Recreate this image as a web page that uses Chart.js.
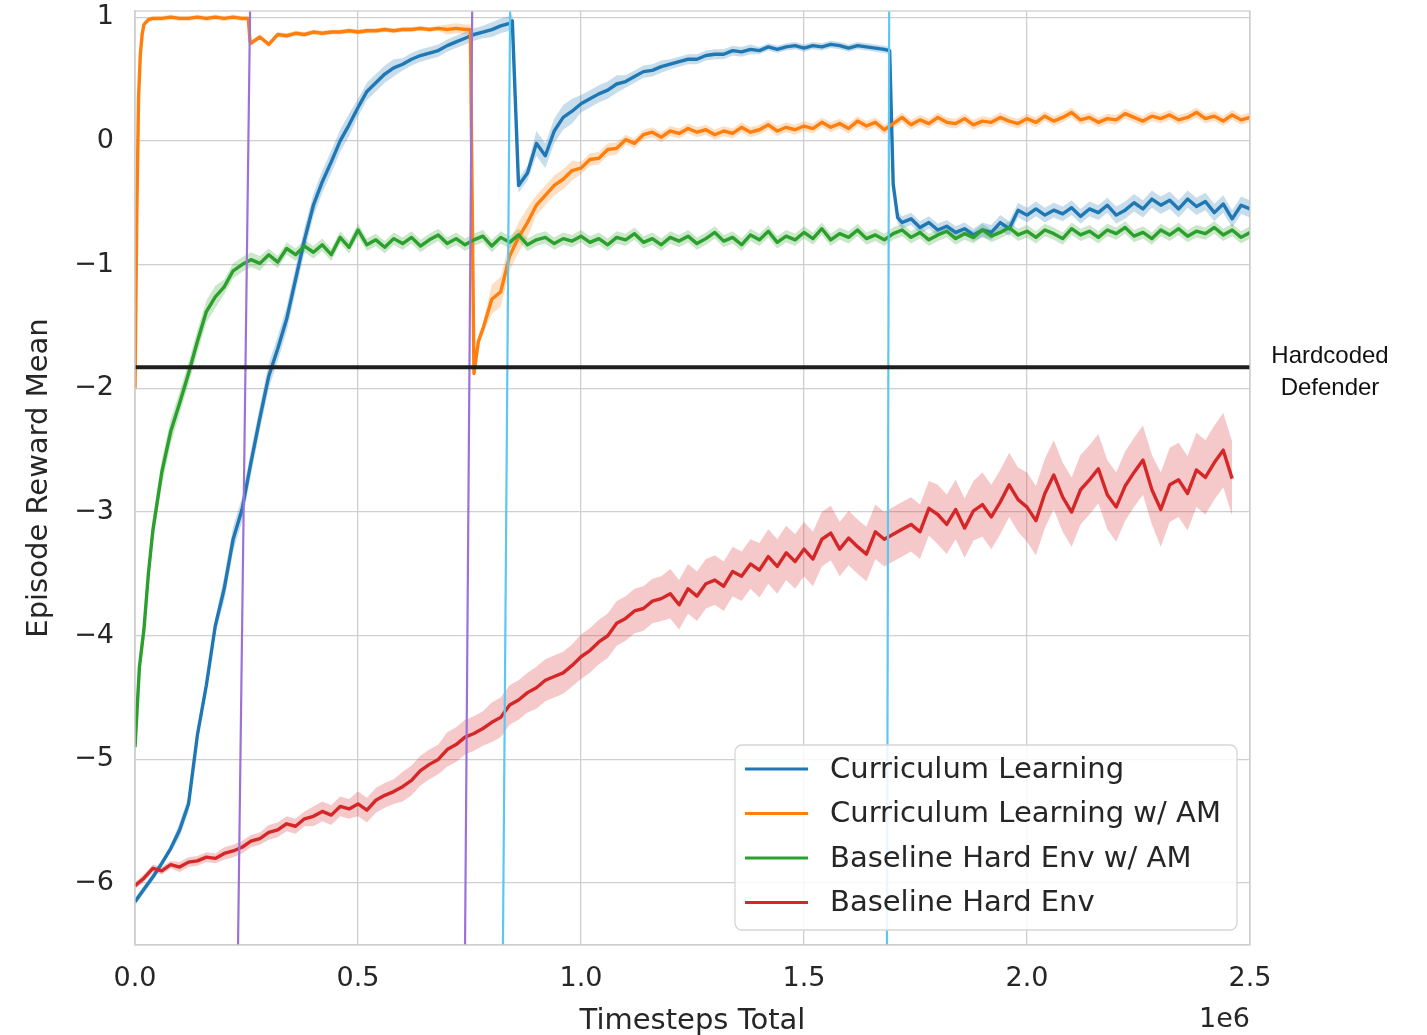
<!DOCTYPE html>
<html>
<head>
<meta charset="utf-8">
<title>Episode Reward Mean</title>
<script src="https://cdn.jsdelivr.net/npm/chart.js@4.4.1/dist/chart.umd.min.js"></script>
<style>
  html, body { margin: 0; padding: 0; background: #fff; }
</style>
</head>
<body>
<canvas id="rewardChart" width="1427" height="1035"></canvas>
<script>
// timesteps, in units of 1e6
const steps = [
  0.00, 0.02, 0.04, 0.06, 0.08, 0.10, 0.12, 0.14, 0.16, 0.18,
  0.20, 0.22, 0.24, 0.26, 0.28, 0.30, 0.32, 0.34, 0.36, 0.38,
  0.40, 0.42, 0.44, 0.46, 0.48, 0.50, 0.52, 0.54, 0.56, 0.58,
  0.60, 0.62, 0.64, 0.66, 0.68, 0.70, 0.72, 0.74, 0.76, 0.78,
  0.80, 0.82, 0.84, 0.86, 0.88, 0.90, 0.92, 0.94, 0.96, 0.98,
  1.00, 1.02, 1.04, 1.06, 1.08, 1.10, 1.12, 1.14, 1.16, 1.18,
  1.20, 1.22, 1.24, 1.26, 1.28, 1.30, 1.32, 1.34, 1.36, 1.38,
  1.40, 1.42, 1.44, 1.46, 1.48, 1.50, 1.52, 1.54, 1.56, 1.58,
  1.60, 1.62, 1.64, 1.66, 1.68, 1.70, 1.72, 1.74, 1.76, 1.78,
  1.80, 1.82, 1.84, 1.86, 1.88, 1.90, 1.92, 1.94, 1.96, 1.98,
  2.00, 2.02, 2.04, 2.06, 2.08, 2.10, 2.12, 2.14, 2.16, 2.18,
  2.20, 2.22, 2.24, 2.26, 2.28, 2.30, 2.32, 2.34, 2.36, 2.38,
  2.40, 2.42, 2.44, 2.46, 2.48, 2.50
];

// Curriculum Learning
const blueReward = [
  -6.15, -6.05, -5.95, -5.84, -5.72, -5.57, -5.36, -4.80, -4.40, -3.92,
  -3.62, -3.22, -2.98, -2.60, -2.24, -1.90, -1.68, -1.44, -1.12, -0.80,
  -0.52, -0.33, -0.17, 0.00, 0.13, 0.27, 0.40, 0.47, 0.54, 0.59,
  0.62, 0.66, 0.69, 0.71, 0.73, 0.77, 0.80, 0.83, 0.86, 0.88,
  0.90, 0.93, 0.95, -0.36, -0.26, -0.02, -0.12, 0.08, 0.19, 0.24,
  0.30, 0.34, 0.38, 0.41, 0.46, 0.48, 0.52, 0.56, 0.57, 0.60,
  0.62, 0.64, 0.66, 0.66, 0.69, 0.70, 0.70, 0.73, 0.72, 0.74,
  0.73, 0.76, 0.74, 0.76, 0.77, 0.75, 0.77, 0.76, 0.78, 0.77,
  0.75, 0.77, 0.76, 0.75, 0.74, -0.35, -0.66, -0.63, -0.70, -0.66,
  -0.72, -0.69, -0.74, -0.71, -0.76, -0.72, -0.74, -0.66, -0.71, -0.56,
  -0.60, -0.55, -0.60, -0.56, -0.59, -0.54, -0.61, -0.55, -0.58, -0.52,
  -0.60, -0.56, -0.50, -0.55, -0.47, -0.52, -0.48, -0.55, -0.47, -0.53,
  -0.49, -0.58, -0.51, -0.63, -0.52, -0.55
];
const blueJumpX = [0.846, 1.692, 1.71];
const blueJumpY = [0.97, 0.73, -0.62];
const blueSpread = [0.03, 0.06, 0.10, 0.10, 0.09, 0.07, 0.05, 0.05, 0.06, 0.10, 0.07, 0.05, 0.04,
  0.04, 0.03, 0.03, 0.03, 0.05, 0.05, 0.06, 0.06, 0.06, 0.07, 0.07, 0.07, 0.07];

// Curriculum Learning w/ AM
const orangeReward = [
  -2.00, 0.94, 0.99, 0.99, 1.00, 0.99, 0.99, 1.00, 0.99, 1.00,
  0.99, 1.00, 0.99, 0.79, 0.84, 0.78, 0.86, 0.85, 0.87, 0.86,
  0.88, 0.87, 0.88, 0.88, 0.89, 0.88, 0.89, 0.89, 0.90, 0.89,
  0.90, 0.90, 0.91, 0.90, 0.91, 0.90, 0.91, 0.90, -1.88, -1.52,
  -1.28, -1.22, -0.93, -0.78, -0.66, -0.52, -0.44, -0.36, -0.31, -0.24,
  -0.22, -0.15, -0.14, -0.07, -0.06, 0.01, -0.02, 0.05, 0.07, 0.03,
  0.08, 0.06, 0.10, 0.07, 0.09, 0.05, 0.08, 0.06, 0.11, 0.07,
  0.09, 0.13, 0.08, 0.11, 0.09, 0.12, 0.10, 0.15, 0.11, 0.14,
  0.10, 0.16, 0.12, 0.15, 0.09, 0.14, 0.19, 0.13, 0.17, 0.14,
  0.19, 0.15, 0.14, 0.18, 0.13, 0.16, 0.15, 0.19, 0.16, 0.14,
  0.18, 0.15, 0.20, 0.16, 0.19, 0.23, 0.17, 0.19, 0.15, 0.18,
  0.17, 0.22, 0.19, 0.16, 0.20, 0.18, 0.21, 0.17, 0.19, 0.23,
  0.18, 0.20, 0.16, 0.21, 0.17, 0.19
];
const orangeJumpX = [0.004, 0.008, 0.012, 0.016, 0.03, 0.254, 0.258, 0.752, 0.77];
const orangeJumpY = [-0.6, 0.35, 0.7, 0.86, 0.98, 0.99, 0.80, 0.90, -1.62];
const orangeSpread = [0.02, 0.02, 0.02, 0.02, 0.02, 0.02, 0.02, 0.04, 0.12, 0.08, 0.05, 0.04, 0.04,
  0.04, 0.04, 0.04, 0.04, 0.04, 0.04, 0.04, 0.04, 0.04, 0.04, 0.04, 0.04, 0.04];

// Baseline Hard Env w/ AM
const greenReward = [
  -4.90, -3.95, -3.15, -2.68, -2.35, -2.12, -1.88, -1.62, -1.38, -1.26,
  -1.18, -1.05, -1.00, -0.96, -0.99, -0.92, -0.98, -0.87, -0.92, -0.85,
  -0.90, -0.84, -0.92, -0.78, -0.86, -0.72, -0.84, -0.80, -0.86, -0.79,
  -0.83, -0.78, -0.85, -0.80, -0.76, -0.83, -0.79, -0.84, -0.80, -0.77,
  -0.85, -0.78, -0.82, -0.76, -0.84, -0.80, -0.78, -0.83, -0.79, -0.81,
  -0.77, -0.82, -0.79, -0.84, -0.78, -0.80, -0.75, -0.82, -0.79, -0.84,
  -0.78, -0.81, -0.77, -0.83, -0.79, -0.74, -0.81, -0.78, -0.84, -0.76,
  -0.80, -0.73, -0.82, -0.77, -0.80, -0.74, -0.79, -0.71, -0.80, -0.75,
  -0.78, -0.72, -0.79, -0.76, -0.80, -0.75, -0.72, -0.78, -0.74, -0.80,
  -0.76, -0.73, -0.79, -0.75, -0.78, -0.72, -0.77, -0.74, -0.70, -0.76,
  -0.73, -0.78, -0.72, -0.75, -0.79, -0.71, -0.76, -0.73, -0.78, -0.72,
  -0.75, -0.70, -0.77, -0.74, -0.79, -0.72, -0.76, -0.71, -0.77, -0.73,
  -0.75, -0.70, -0.76, -0.72, -0.78, -0.74
];
const greenJumpX = [0.01, 0.03];
const greenJumpY = [-4.25, -3.5];
const greenSpread = [0.10, 0.09, 0.06, 0.05, 0.05, 0.05, 0.05, 0.05, 0.05, 0.05, 0.05, 0.05, 0.05,
  0.05, 0.05, 0.05, 0.05, 0.05, 0.05, 0.05, 0.05, 0.05, 0.05, 0.05, 0.05, 0.05];

// Baseline Hard Env (ends at 2.46e6)
const redReward = [
  -6.02, -5.96, -5.88, -5.90, -5.85, -5.87, -5.83, -5.82, -5.79, -5.80,
  -5.76, -5.74, -5.71, -5.66, -5.64, -5.59, -5.57, -5.52, -5.54, -5.48,
  -5.46, -5.42, -5.45, -5.38, -5.40, -5.36, -5.41, -5.33, -5.29, -5.26,
  -5.22, -5.17, -5.09, -5.04, -5.00, -4.92, -4.88, -4.82, -4.79, -4.75,
  -4.70, -4.66, -4.56, -4.52, -4.46, -4.42, -4.36, -4.33, -4.30, -4.24,
  -4.17, -4.12, -4.05, -4.00, -3.90, -3.86, -3.80, -3.78, -3.72, -3.70,
  -3.66, -3.75, -3.62, -3.68, -3.58, -3.55, -3.60, -3.48, -3.52, -3.42,
  -3.47, -3.36, -3.44, -3.33, -3.40, -3.30, -3.38, -3.22, -3.17, -3.30,
  -3.21, -3.28, -3.34, -3.16, -3.22, -3.18, -3.14, -3.10, -3.16, -2.97,
  -3.02, -3.10, -2.98, -3.13, -2.99, -2.94, -3.04, -2.92, -2.78, -2.90,
  -2.96, -3.07, -2.85, -2.70, -2.88, -3.00, -2.82, -2.74, -2.65, -2.86,
  -2.96, -2.79, -2.68, -2.58, -2.82, -2.98, -2.78, -2.74, -2.85, -2.66,
  -2.72, -2.60, -2.50, -2.73
];
const redSpread = [0.03, 0.04, 0.05, 0.06, 0.08, 0.10, 0.12, 0.14, 0.16, 0.17, 0.18, 0.18, 0.20,
  0.20, 0.22, 0.22, 0.22, 0.22, 0.24, 0.26, 0.28, 0.28, 0.28, 0.30, 0.30, 0.30];

const legendLabels = ['Curriculum Learning', 'Curriculum Learning w/ AM', 'Baseline Hard Env w/ AM', 'Baseline Hard Env'];
const lineColors = ['#1f77b4', '#ff7f0e', '#2ca02c', '#d62728'];

const xTickValues = [0, 0.5, 1, 1.5, 2, 2.5];
const xTickLabels = ['0.0', '0.5', '1.0', '1.5', '2.0', '2.5'];
const yTickValues = [-6, -5, -4, -3, -2, -1, 0, 1];
const yTickLabels = ['\u22126', '\u22125', '\u22124', '\u22123', '\u22122', '\u22121', '0', '1'];
const xRange = [0, 2.5];
const yRange = [-6.5, 1.05];

// hardcoded defender reference level
const defenderLevel = -1.83;
const defenderText = ['Hardcoded', 'Defender'];

// curriculum phase switches (lines lean slightly in the source)
const phaseTopX = [0.258, 0.756, 0.841, 1.691];
const phaseBottomX = [0.231, 0.740, 0.825, 1.686];
const phaseColors = ['#9d72d8', '#9d72d8', '#5cc8f2', '#5cc8f2'];

const FONT = "'DejaVu Sans', sans-serif";
const textColor = '#262626';
const gridColor = '#cfcfcf';

function hexA(hex, a) {
  const n = parseInt(hex.slice(1), 16);
  return 'rgba(' + (n >> 16) + ',' + ((n >> 8) & 255) + ',' + (n & 255) + ',' + a + ')';
}

function toPoints(ys, jx, jy) {
  const pts = [];
  ys.forEach((v, i) => pts.push({ x: steps[i], y: v }));
  jx.forEach((v, i) => pts.push({ x: v, y: jy[i] }));
  return pts.sort((a, b) => a.x - b.x);
}

function spreadAt(spread, x) {
  return spread[Math.min(Math.floor(x * 10 + 1e-6), spread.length - 1)];
}

const series = [
  { ys: blueReward, jx: blueJumpX, jy: blueJumpY, spread: blueSpread },
  { ys: orangeReward, jx: orangeJumpX, jy: orangeJumpY, spread: orangeSpread },
  { ys: greenReward, jx: greenJumpX, jy: greenJumpY, spread: greenSpread },
  { ys: redReward, jx: [], jy: [], spread: redSpread }
];

const datasets = [];
series.forEach((s, k) => {
  const pts = toPoints(s.ys, s.jx, s.jy);
  datasets.push({
    data: pts.map(p => ({ x: p.x, y: p.y + spreadAt(s.spread, p.x) })),
    borderWidth: 0, borderColor: 'transparent', pointRadius: 0, fill: false, order: 20 + k
  });
  datasets.push({
    data: pts.map(p => ({ x: p.x, y: p.y - spreadAt(s.spread, p.x) })),
    borderWidth: 0, borderColor: 'transparent', pointRadius: 0,
    fill: '-1', backgroundColor: hexA(lineColors[k], 0.25), order: 20 + k
  });
  datasets.push({
    label: legendLabels[k], data: pts, borderColor: lineColors[k], borderWidth: 3.4,
    borderJoinStyle: 'round', pointRadius: 0, fill: false, order: 5 - k
  });
});

phaseTopX.forEach((tx, i) => {
  datasets.push({
    data: [{ x: phaseBottomX[i], y: yRange[0] }, { x: tx, y: yRange[1] }],
    borderColor: phaseColors[i], borderWidth: 2.2, pointRadius: 0, fill: false, order: 1
  });
});

datasets.push({
  data: [{ x: xRange[0], y: defenderLevel }, { x: xRange[1], y: defenderLevel }],
  borderColor: '#1e1e1e', borderWidth: 4, pointRadius: 0, fill: false, order: 0
});

const extras = {
  id: 'extras',
  afterDraw(chart) {
    const { ctx, chartArea: a, scales } = chart;
    ctx.save();

    // frame on all four sides
    ctx.strokeStyle = gridColor;
    ctx.lineWidth = 1.3;
    ctx.strokeRect(a.left, a.top, a.right - a.left, a.bottom - a.top);

    // offset text of the x axis
    ctx.fillStyle = textColor;
    ctx.font = '27px ' + FONT;
    ctx.textAlign = 'right';
    ctx.textBaseline = 'alphabetic';
    ctx.fillText('1e6', a.right, a.bottom + 82);

    // defender label
    const dy = scales.y.getPixelForValue(defenderLevel);
    ctx.fillStyle = '#111';
    ctx.font = "24px 'Liberation Sans', Arial, sans-serif";
    ctx.textAlign = 'center';
    ctx.textBaseline = 'middle';
    ctx.fillText(defenderText[0], a.right + 80, dy - 11);
    ctx.fillText(defenderText[1], a.right + 80, dy + 21);

    // legend box
    const bw = 502, bh = 185;
    const bx = a.right - 515, by = a.bottom - 200;
    ctx.beginPath();
    if (ctx.roundRect) ctx.roundRect(bx, by, bw, bh, 7); else ctx.rect(bx, by, bw, bh);
    ctx.fillStyle = 'rgba(255,255,255,0.85)';
    ctx.fill();
    ctx.strokeStyle = '#d6d6d6';
    ctx.lineWidth = 1.3;
    ctx.stroke();

    ctx.font = '29px ' + FONT;
    ctx.textAlign = 'left';
    ctx.textBaseline = 'middle';
    legendLabels.forEach((lab, k) => {
      const ly = by + 24 + k * 44.5;
      ctx.strokeStyle = lineColors[k];
      ctx.lineWidth = 3.2;
      ctx.beginPath();
      ctx.moveTo(bx + 10, ly);
      ctx.lineTo(bx + 73, ly);
      ctx.stroke();
      ctx.fillStyle = textColor;
      ctx.fillText(lab, bx + 95, ly + 1);
    });
    ctx.restore();
  }
};

new Chart(document.getElementById('rewardChart').getContext('2d'), {
  type: 'line',
  data: { datasets: datasets },
  options: {
    responsive: false,
    animation: false,
    events: [],
    layout: { padding: { top: 11, right: 177, left: 0, bottom: 0 } },
    elements: { line: { tension: 0 }, point: { radius: 0 } },
    plugins: { legend: { display: false }, tooltip: { enabled: false } },
    scales: {
      x: {
        type: 'linear',
        min: xRange[0],
        max: xRange[1],
        afterBuildTicks: sc => { sc.ticks = xTickValues.map(v => ({ value: v })); },
        afterFit: sc => { sc.height = 90; sc.paddingLeft = 0; sc.paddingRight = 0; },
        ticks: {
          autoSkip: false, maxRotation: 0, padding: 18, color: textColor,
          font: { family: FONT, size: 27 },
          callback: (v, i) => xTickLabels[i]
        },
        grid: { color: gridColor, lineWidth: 1.3, drawTicks: false },
        border: { color: gridColor, width: 1.3 },
        title: {
          display: true, text: 'Timesteps Total', color: textColor,
          font: { family: FONT, size: 29, lineHeight: 1 }, padding: { top: 0, bottom: -1 }
        }
      },
      y: {
        type: 'linear',
        min: yRange[0],
        max: yRange[1],
        afterBuildTicks: sc => { sc.ticks = yTickValues.map(v => ({ value: v })); },
        afterFit: sc => { sc.width = 135; sc.paddingTop = 0; sc.paddingBottom = 0; },
        ticks: {
          autoSkip: false, padding: 21, color: textColor,
          font: { family: FONT, size: 27 },
          callback: (v, i) => yTickLabels[i]
        },
        grid: { color: gridColor, lineWidth: 1.3, drawTicks: false },
        border: { color: gridColor, width: 1.3 },
        title: {
          display: true, text: 'Episode Reward Mean', color: textColor,
          font: { family: FONT, size: 29, lineHeight: 1 }, padding: { top: 25, bottom: 0 }
        }
      }
    }
  },
  plugins: [extras]
});
</script>
</body>
</html>
